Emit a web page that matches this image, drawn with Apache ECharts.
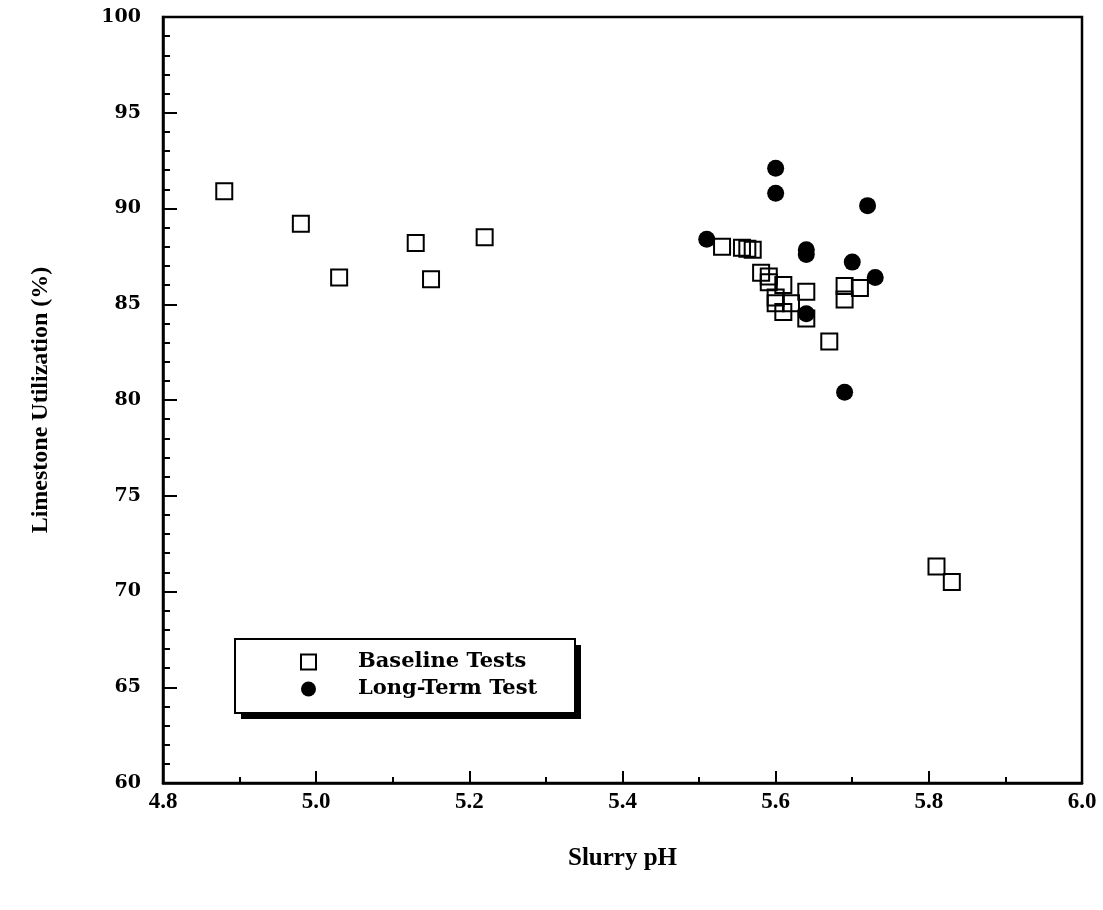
<!DOCTYPE html>
<html>
<head>
<meta charset="utf-8">
<script src="https://cdn.jsdelivr.net/npm/echarts@6/dist/echarts.min.js"></script>
<style>
  html, body { margin: 0; padding: 0; background: #fff; }
  #main { width: 1103px; height: 910px; }
</style>
</head>
<body>
<div id="main"></div>
<script>
// baseline tests (open squares)
var basePH   = [4.88, 4.98, 5.03, 5.13, 5.15, 5.22, 5.53, 5.556, 5.563, 5.57, 5.581, 5.591, 5.591, 5.61, 5.60, 5.60, 5.62, 5.61, 5.64, 5.64, 5.67, 5.69, 5.69, 5.71, 5.81, 5.83];
var baseUtil = [90.9, 89.2, 86.4, 88.2, 86.3, 88.5, 88.0, 87.95, 87.9, 87.85, 86.65, 86.45, 86.15, 86.0, 85.35, 85.05, 85.05, 84.6, 85.65, 84.25, 83.05, 85.95, 85.25, 85.85, 71.3, 70.5];

// long-term test (filled circles)
var longPH   = [5.60, 5.60, 5.72, 5.51, 5.64, 5.64, 5.70, 5.73, 5.64, 5.69];
var longUtil = [92.1, 90.8, 90.15, 88.4, 87.85, 87.6, 87.2, 86.4, 84.5, 80.4];

var xTicks = ['4.8', '5.0', '5.2', '5.4', '5.6', '5.8', '6.0'];

function pairs(xs, ys) {
  var out = [];
  for (var i = 0; i < xs.length; i++) out.push([xs[i], ys[i]]);
  return out;
}

var font = '"Liberation Serif", "Times New Roman", serif';
var wideFont = '"DejaVu Serif", serif';
var chart = echarts.init(document.getElementById('main'));

chart.setOption({
  animation: false,
  backgroundColor: '#fff',
  grid: {
    left: 163, right: 21, top: 17, bottom: 127,
    show: true, borderColor: '#000', borderWidth: 2.5, backgroundColor: 'transparent'
  },
  // legend frame with its drop shadow
  graphic: [
    { type: 'rect', z: 10, shape: { x: 241, y: 645, width: 340, height: 74 }, style: { fill: '#000' } },
    { type: 'rect', z: 11, shape: { x: 235, y: 639, width: 340, height: 74 }, style: { fill: '#fff', stroke: '#000', lineWidth: 2 } }
  ],
  legend: {
    orient: 'vertical',
    left: 235, top: 651,
    z: 20,
    padding: [0, 0, 0, 65],
    itemGap: 5,
    itemWidth: 15, itemHeight: 15,
    textStyle: {
      fontFamily: wideFont, fontWeight: 'bold', fontSize: 21, lineHeight: 22, color: '#000',
      padding: [0, 0, 0, 37]
    },
    data: ['Baseline Tests', 'Long-Term Test']
  },
  xAxis: {
    type: 'value',
    min: 4.8, max: 6.0, interval: 0.2,
    name: 'Slurry pH',
    nameLocation: 'middle',
    nameGap: 63,
    nameTextStyle: { fontFamily: font, fontWeight: 'bold', fontSize: 25, color: '#000' },
    axisLine: { lineStyle: { color: '#000', width: 2.5 } },
    axisTick: { inside: true, length: 12, lineStyle: { color: '#000', width: 2 } },
    minorTick: { show: true, splitNumber: 2, length: 6, lineStyle: { color: '#000', width: 2 } },
    splitLine: { show: false },
    axisLabel: {
      margin: 8,
      fontFamily: font, fontWeight: 'bold', fontSize: 23, color: '#000',
      formatter: function (v) {
        var i = Math.round((v - 4.8) / 0.2);
        return xTicks[i] || v.toFixed(1);
      }
    }
  },
  yAxis: {
    type: 'value',
    min: 60, max: 100, interval: 5,
    name: 'Limestone Utilization (%)',
    nameLocation: 'middle',
    nameGap: 110,
    nameTextStyle: { fontFamily: font, fontWeight: 'bold', fontSize: 24, color: '#000' },
    axisLine: { lineStyle: { color: '#000', width: 2.5 } },
    axisTick: { inside: true, length: 14, lineStyle: { color: '#000', width: 2 } },
    minorTick: { show: true, splitNumber: 5, length: 7, lineStyle: { color: '#000', width: 2 } },
    splitLine: { show: false },
    axisLabel: {
      margin: 22,
      fontFamily: wideFont, fontWeight: 'bold', fontSize: 19, color: '#000'
    }
  },
  series: [
    {
      name: 'Baseline Tests',
      type: 'scatter',
      symbol: 'rect',
      symbolSize: 16,
      itemStyle: { color: 'rgba(255,255,255,0)', borderColor: '#000', borderWidth: 2, opacity: 1 },
      data: pairs(basePH, baseUtil)
    },
    {
      name: 'Long-Term Test',
      type: 'scatter',
      symbol: 'circle',
      symbolSize: 17,
      itemStyle: { color: '#000', opacity: 1 },
      data: pairs(longPH, longUtil)
    }
  ]
});
</script>
</body>
</html>
